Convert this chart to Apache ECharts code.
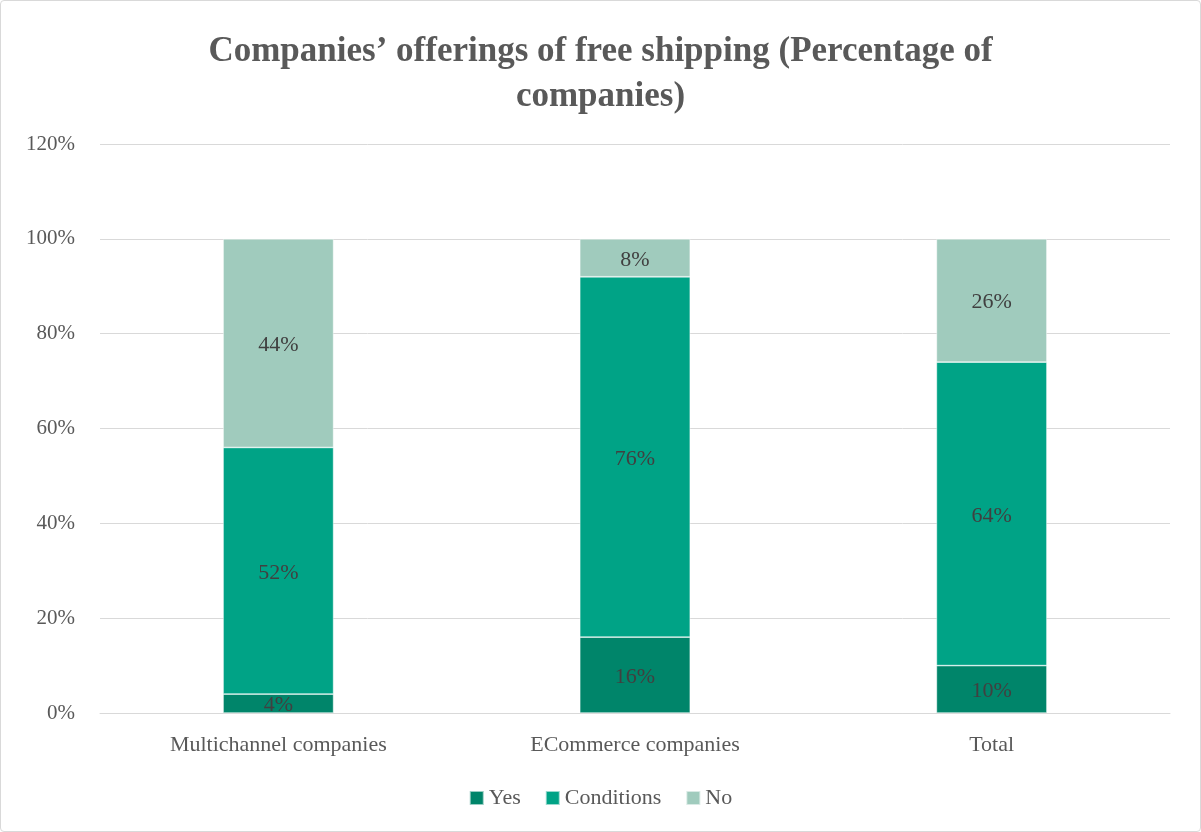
<!DOCTYPE html>
<html>
<head>
<meta charset="utf-8">
<script src="https://cdn.jsdelivr.net/npm/echarts@6/dist/echarts.min.js"></script>
<style>
  html, body { margin: 0; padding: 0; background: #fff; }
  #frame { position: absolute; left: 0; top: 0; width: 1199px; height: 830px; border: 1px solid #d9d9d9; border-radius: 4px; }
  #chart { width: 1201px; height: 832px; }
</style>
</head>
<body>
<div id="frame"></div>
<div id="chart"></div>
<script>
// Share of companies offering free shipping, by company type
const categories = ['Multichannel companies', 'ECommerce companies', 'Total'];
const yesValues = [4, 16, 10];
const conditionsValues = [52, 76, 64];
const noValues = [44, 8, 26];
const seriesNames = ['Yes', 'Conditions', 'No'];
const seriesColors = ['#00856a', '#00a386', '#a0cbbd'];

const FONT = '"Liberation Serif", "DejaVu Serif", serif';
const chart = echarts.init(document.getElementById('chart'), null, { renderer: 'canvas' });

function makeSeries(name, data, color) {
  return {
    name: name,
    type: 'bar',
    stack: 'total',
    data: data,
    barWidth: '31%',
    itemStyle: { color: color, borderColor: 'rgba(255,255,255,0.6)', borderWidth: 0.75 },
    label: {
      show: true,
      position: 'inside',
      offset: [0, 2],
      formatter: p => p.value + '%',
      color: '#404040',
      fontFamily: FONT,
      fontSize: 22
    },
    emphasis: { disabled: true }
  };
}

chart.setOption({
  animation: false,
  backgroundColor: 'transparent',
  title: {
    text: 'Companies\u2019 offerings of free shipping (Percentage of\ncompanies)',
    left: 'center',
    top: 24,
    textStyle: {
      fontFamily: FONT,
      fontSize: 35,
      fontWeight: 'bold',
      color: '#595959',
      lineHeight: 45
    }
  },
  legend: {
    bottom: 18,
    left: 'center',
    itemWidth: 14,
    itemHeight: 14,
    itemGap: 24,
    icon: 'rect',
    textStyle: { fontFamily: FONT, fontSize: 22, color: '#595959' },
    data: seriesNames
  },
  grid: { left: 100, right: 31, top: 144, bottom: 119 },
  xAxis: {
    type: 'category',
    data: categories,
    axisLine: { lineStyle: { color: '#d9d9d9', width: 1 } },
    axisTick: { show: false },
    axisLabel: { fontFamily: FONT, fontSize: 22, color: '#595959', margin: 21 }
  },
  yAxis: {
    type: 'value',
    min: 0,
    max: 120,
    interval: 20,
    axisLine: { show: false },
    axisTick: { show: false },
    splitLine: { lineStyle: { color: '#d9d9d9', width: 1 } },
    axisLabel: {
      fontFamily: FONT,
      fontSize: 21,
      color: '#595959',
      margin: 25,
      formatter: v => v + '%'
    }
  },
  series: [
    makeSeries(seriesNames[0], yesValues, seriesColors[0]),
    makeSeries(seriesNames[1], conditionsValues, seriesColors[1]),
    makeSeries(seriesNames[2], noValues, seriesColors[2])
  ]
});
</script>
</body>
</html>
